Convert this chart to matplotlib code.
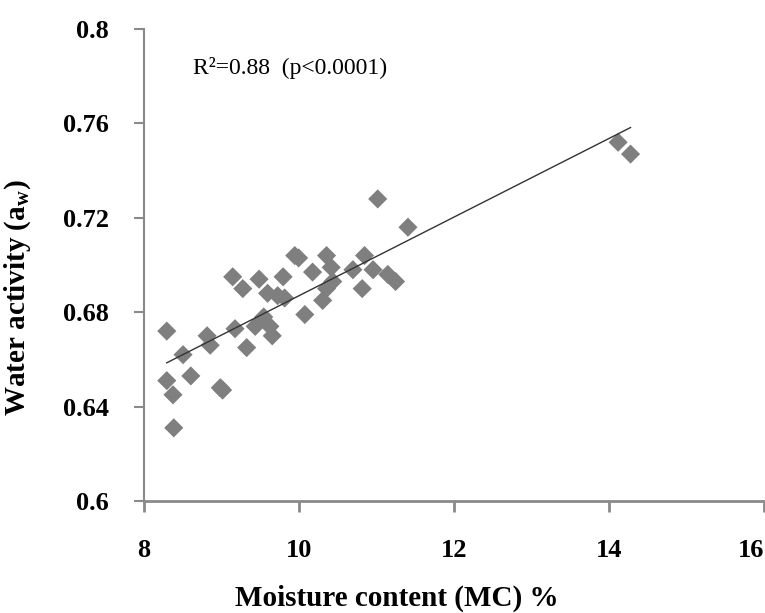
import numpy as np
import matplotlib
matplotlib.use('Agg')
import matplotlib.pyplot as plt

# moisture content (%) and water activity
mc = [8.30, 8.51, 8.82, 8.86, 8.30, 8.38, 8.61, 8.99, 9.02, 8.39,
      9.18, 9.33, 9.44, 9.15, 9.28, 9.49, 9.80, 9.95, 10.00, 10.18,
      10.36, 10.42, 9.60, 9.73, 9.82, 10.08, 10.31, 10.36, 9.55, 9.63,
      9.66, 10.44, 10.70, 10.85, 10.96, 11.15, 11.25, 10.82, 11.02, 11.41,
      14.12, 14.28]
aw = [0.672, 0.662, 0.670, 0.666, 0.651, 0.645, 0.653, 0.648, 0.647, 0.631,
      0.673, 0.665, 0.674, 0.695, 0.690, 0.694, 0.695, 0.704, 0.703, 0.697,
      0.704, 0.699, 0.688, 0.687, 0.686, 0.679, 0.685, 0.690, 0.678, 0.674,
      0.670, 0.693, 0.698, 0.704, 0.698, 0.696, 0.693, 0.690, 0.728, 0.716,
      0.752, 0.747]

# linear trend line
slope = 0.01667
intercept = 0.5202

x_ticks = [8, 10, 12, 14, 16]
y_ticks = [0.6, 0.64, 0.68, 0.72, 0.76, 0.8]
y_tick_labels = ['0.6', '0.64', '0.68', '0.72', '0.76', '0.8']

AXIS_GRAY = '#8a8a8a'
MARK_GRAY = '#7f7f7f'

plt.rcParams['font.family'] = ['Liberation Serif', 'DejaVu Serif']
plt.rcParams['mathtext.fontset'] = 'custom'
plt.rcParams['mathtext.rm'] = 'Liberation Serif'
plt.rcParams['mathtext.bf'] = 'Liberation Serif:bold'

fig = plt.figure(figsize=(7.65, 6.13), dpi=100)
ax = fig.add_axes([0.1876, 0.1827, 0.811, 0.770])

ax.scatter(mc, aw, marker='D', s=95, c=MARK_GRAY, edgecolors='none', zorder=2)

fit_x = np.array([min(mc), max(mc)])
ax.plot(fit_x, slope * fit_x + intercept, color='#333333', linewidth=1.0, zorder=3)

ax.text(8.64, 0.7835, 'R²=0.88  (p<0.0001)', fontsize=17, va='center', ha='left')

# format the axes
ax.set_xlim(8, 16)
ax.set_ylim(0.6, 0.8)
ax.set_xticks(x_ticks)
ax.set_yticks(y_ticks)
ax.set_yticklabels(y_tick_labels)
for lbl in ax.get_xticklabels() + ax.get_yticklabels():
    lbl.set_fontweight('bold')
# last x label sits against the right edge of the picture
ax.get_xticklabels()[-1].set_horizontalalignment('right')
ax.tick_params(axis='x', direction='out', length=8, width=2, color=AXIS_GRAY,
               labelsize=19, pad=19)
ax.tick_params(axis='y', direction='out', length=7, width=1.5, color=AXIS_GRAY,
               labelsize=19, pad=18)

ax.spines['top'].set_visible(False)
ax.spines['right'].set_visible(False)
ax.spines['left'].set_color(AXIS_GRAY)
ax.spines['left'].set_linewidth(1.5)
ax.spines['bottom'].set_color(AXIS_GRAY)
ax.spines['bottom'].set_linewidth(2)

ax.set_xlabel('Moisture content (MC) %', fontsize=21, fontweight='bold')
ax.set_ylabel('Water activity (a$_\\mathbf{w}$)', fontsize=21, fontweight='bold')
ax.xaxis.set_label_coords(0.4085, -0.178)
ax.yaxis.set_label_coords(-0.178, 0.43)

fig.savefig('out.png', dpi=100)
